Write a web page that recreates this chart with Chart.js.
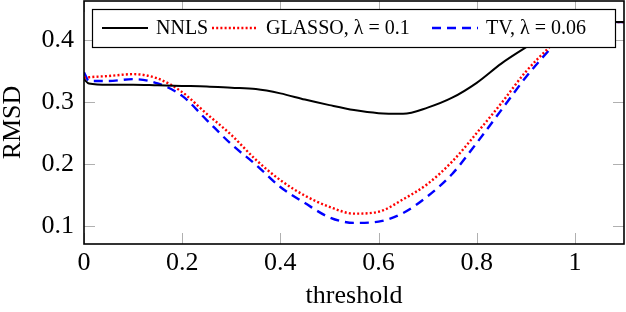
<!DOCTYPE html>
<html>
<head>
<meta charset="utf-8">
<title>RMSD vs threshold</title>
<script src="https://cdn.jsdelivr.net/npm/chart.js@4.4.1/dist/chart.umd.min.js"></script>
<style>
    html, body { margin: 0; padding: 0; background: #fff; }
    #wrap { width: 626px; height: 312px; }
</style>
</head>
<body>
<div id="wrap"><canvas id="rmsdChart" width="626" height="312"></canvas></div>
<script>
// =======================
// Data
// =======================
const thresholds = [0, 0.01, 0.05, 0.1, 0.15, 0.2, 0.25, 0.3, 0.35, 0.4, 0.45, 0.5, 0.55, 0.6, 0.65, 0.7, 0.75, 0.8, 0.85, 0.9, 0.95, 1.0, 1.05, 1.1];
const nnls   = [0.337, 0.330, 0.328, 0.328, 0.327, 0.326, 0.325, 0.323, 0.321, 0.314, 0.304, 0.295, 0.287, 0.282, 0.281, 0.291, 0.307, 0.331, 0.362, 0.388, 0.412, 0.428, 0.429, 0.429];
const glasso = [0.339, 0.340, 0.342, 0.345, 0.338, 0.316, 0.281, 0.247, 0.207, 0.174, 0.149, 0.131, 0.120, 0.123, 0.143, 0.168, 0.204, 0.250, 0.298, 0.349, 0.390, 0.428, 0.429, 0.429];
const tv     = [0.348, 0.334, 0.334, 0.337, 0.330, 0.310, 0.271, 0.232, 0.199, 0.163, 0.137, 0.114, 0.105, 0.107, 0.121, 0.148, 0.184, 0.234, 0.287, 0.340, 0.386, 0.428, 0.429, 0.429];

const seriesLabels = ["NNLS", "GLASSO, λ = 0.1", "TV, λ = 0.06"];
const xTicks = [0, 0.2, 0.4, 0.6, 0.8, 1];
const yTicks = [0.1, 0.2, 0.3, 0.4];

const SERIF = "'Liberation Serif', 'Times New Roman', serif";

function toPoints(values) {
    return thresholds.map((t, i) => ({ x: t, y: values[i] }));
}

// no extra label margins, the plot box is set by afterFit
function noScalePadding(s) {
    s.paddingTop = 0;
    s.paddingBottom = 0;
    s.paddingLeft = 0;
    s.paddingRight = 0;
}

// =======================
// pgfplots-like frame + inward ticks
// =======================
const axisFrame = {
    id: "axisFrame",
    beforeDatasetsDraw(chart) {
        const { ctx, chartArea: a, scales: { x, y } } = chart;
        const len = 11;
        ctx.save();
        ctx.strokeStyle = "#b0b0b0";
        ctx.lineWidth = 1;
        ctx.beginPath();
        xTicks.forEach(v => {
            const px = Math.round(x.getPixelForValue(v)) + 0.5;
            ctx.moveTo(px, a.bottom); ctx.lineTo(px, a.bottom - len);
            ctx.moveTo(px, a.top);    ctx.lineTo(px, a.top + len);
        });
        yTicks.forEach(v => {
            const py = Math.round(y.getPixelForValue(v)) + 0.5;
            ctx.moveTo(a.left, py);  ctx.lineTo(a.left + len, py);
            ctx.moveTo(a.right, py); ctx.lineTo(a.right - len, py);
        });
        ctx.stroke();
        ctx.restore();
    },
    afterDatasetsDraw(chart) {
        const { ctx, chartArea: a } = chart;
        ctx.save();
        ctx.strokeStyle = "#000";
        ctx.lineWidth = 1.6;
        ctx.strokeRect(a.left, a.top, a.right - a.left, a.bottom - a.top);
        ctx.restore();
    }
};

// =======================
// Boxed legend inside the plot
// =======================
const boxLegend = {
    id: "boxLegend",
    afterDatasetsDraw(chart) {
        const { ctx } = chart;
        const starts = [102, 212, 432];
        const lineY = 28;
        ctx.save();
        ctx.fillStyle = "#fff";
        ctx.fillRect(92, 9, 524, 39);
        ctx.strokeStyle = "#000";
        ctx.lineWidth = 1.2;
        ctx.strokeRect(92.5, 9.5, 523, 38);

        chart.data.datasets.forEach((ds, i) => {
            const x0 = starts[i];
            ctx.beginPath();
            ctx.strokeStyle = ds.borderColor;
            ctx.lineWidth = ds.borderWidth;
            ctx.setLineDash(ds.borderDash || []);
            ctx.moveTo(x0, lineY);
            ctx.lineTo(x0 + 46, lineY);
            ctx.stroke();
            ctx.setLineDash([]);

            ctx.fillStyle = "#000";
            ctx.font = "20px " + SERIF;
            ctx.textAlign = "left";
            ctx.textBaseline = "alphabetic";
            ctx.fillText(ds.label, x0 + 54, 33.5);
        });
        ctx.restore();
    }
};

// =======================
// Build chart
// =======================
Chart.defaults.color = "#000";

new Chart(document.getElementById("rmsdChart"), {
    type: "line",
    data: {
        datasets: [
            {
                label: seriesLabels[0],
                data: toPoints(nnls),
                borderColor: "#000",
                borderWidth: 2,
                pointRadius: 0,
                cubicInterpolationMode: "monotone"
            },
            {
                label: seriesLabels[1],
                data: toPoints(glasso),
                borderColor: "#ff0000",
                borderWidth: 2.4,
                borderDash: [2, 2.2],
                pointRadius: 0,
                cubicInterpolationMode: "monotone"
            },
            {
                label: seriesLabels[2],
                data: toPoints(tv),
                borderColor: "#0000ff",
                borderWidth: 2.4,
                borderDash: [9, 6],
                pointRadius: 0,
                cubicInterpolationMode: "monotone"
            }
        ]
    },
    options: {
        responsive: false,
        animation: false,
        layout: { padding: { left: 0, right: 2, top: 1, bottom: 0 } },
        plugins: {
            legend: { display: false },
            tooltip: { enabled: false }
        },
        scales: {
            x: {
                type: "linear",
                min: 0,
                max: 1.1,
                grid: { display: false, drawTicks: false },
                border: { display: false },
                afterBuildTicks: s => { s.ticks = xTicks.map(v => ({ value: v })); },
                afterFit: s => { s.height = 68; noScalePadding(s); },
                ticks: {
                    padding: 4,
                    maxRotation: 0,
                    font: { family: SERIF, size: 26 },
                    callback: v => String(Number(v.toFixed(1)))
                },
                title: {
                    display: true,
                    text: "threshold",
                    font: { family: SERIF, size: 26, lineHeight: 1.2 },
                    padding: { top: 0, bottom: 0 }
                }
            },
            y: {
                type: "linear",
                min: 0.071,
                max: 0.463,
                grid: { display: false, drawTicks: false },
                border: { display: false },
                afterBuildTicks: s => { s.ticks = yTicks.map(v => ({ value: v })); },
                afterFit: s => { s.width = 84; noScalePadding(s); },
                ticks: {
                    padding: 10,
                    font: { family: SERIF, size: 26 },
                    callback: v => v.toFixed(1)
                },
                title: {
                    display: true,
                    text: "RMSD",
                    font: { family: SERIF, size: 26, lineHeight: 1 },
                    padding: { top: 0, bottom: 0 }
                }
            }
        }
    },
    plugins: [axisFrame, boxLegend]
});
</script>
</body>
</html>
